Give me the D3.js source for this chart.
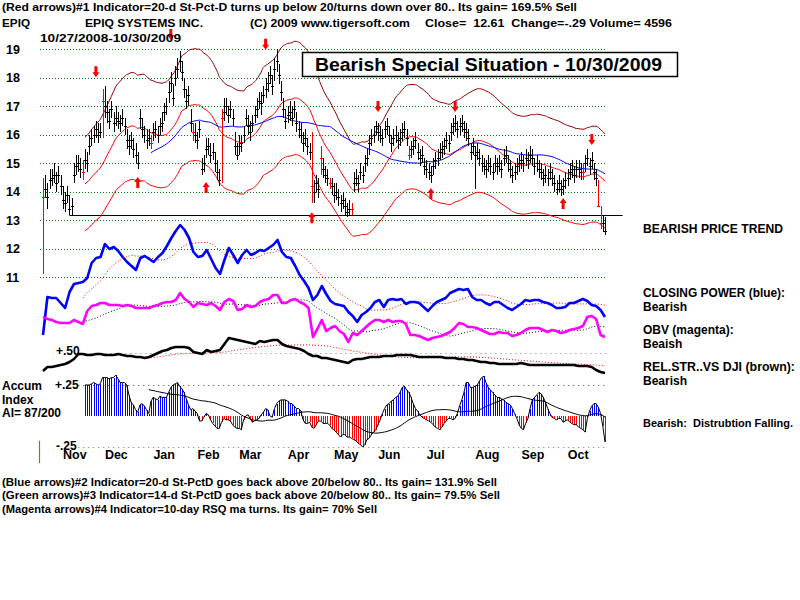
<!DOCTYPE html>
<html><head><meta charset="utf-8">
<script src="https://cdn.jsdelivr.net/npm/d3@7"></script>
<style>
body{margin:0;background:#fff;}
svg{display:block;}
text{font-family:"Liberation Sans",Arial,sans-serif;font-weight:bold;fill:#000;}
</style></head><body>
<svg id="c" width="800" height="600"></svg>
<script>
// ---------- DATA ----------
const closes = [
13.8,14.1,13.8,14.4,14.5,14.6,14.3,14.6,14.2,13.7,
13.6,13.9,13.4,13.5,14.6,14.9,15.0,14.8,14.7,15.1,
15.0,15.6,15.9,16.0,16.2,16.0,16.1,17.2,17.0,16.8,
16.5,16.9,16.4,16.6,16.5,16.4,16.6,16.3,15.8,15.6,
15.8,15.5,15.3,15.0,16.6,16.2,16.0,15.8,15.9,15.7,
16.1,16.2,16.0,16.3,16.4,16.8,17.0,17.5,17.8,17.3,
18.0,18.3,18.6,18.2,17.6,17.2,17.4,16.4,16.1,16.0,
15.8,16.2,14.8,15.0,15.5,15.6,15.3,15.4,15.0,14.7,
14.4,16.6,16.8,17.0,16.7,16.9,16.6,15.6,15.3,15.6,
15.7,16.0,16.6,16.3,16.1,16.4,16.7,16.9,17.2,17.1,
17.4,17.6,17.8,18.1,17.7,18.3,18.6,18.1,17.5,16.9,
16.5,16.7,16.8,16.6,16.9,16.4,16.2,16.0,15.7,15.9,
15.6,15.4,14.2,14.0,14.3,14.1,15.2,14.8,14.6,14.5,
14.3,14.2,13.9,14.0,13.8,13.6,13.7,13.5,13.3,13.4,
13.4,14.3,14.5,14.3,14.7,14.6,15.0,15.2,15.7,15.9,
16.0,16.3,16.1,16.0,15.9,16.2,16.3,16.0,15.7,15.9,
16.0,15.8,15.9,16.1,16.2,15.9,15.3,15.5,15.6,15.8,
15.4,15.2,15.3,14.9,14.8,14.7,14.6,14.9,15.1,15.2,
15.4,15.5,15.6,15.8,15.7,16.1,16.3,16.4,16.2,16.3,
16.4,16.2,16.1,15.9,15.4,15.6,15.3,15.4,15.2,15.0,
14.9,14.8,15.0,14.9,14.7,15.0,14.9,15.0,14.8,15.2,
15.3,15.0,14.8,14.6,14.7,14.9,15.0,15.1,15.0,15.2,
15.1,15.3,15.2,14.9,15.0,14.8,14.7,14.5,14.6,14.5,
14.7,14.5,14.3,14.1,14.3,14.1,14.2,14.4,14.5,14.7,
14.8,14.6,14.8,14.8,14.7,14.7,15.0,15.2,14.9,15.1,
14.7,14.5,13.5,12.9,12.9,12.61];
const highs = [
14.5,14.6,14.3,14.8,14.8,15.0,14.7,14.9,14.6,14.2,
14.0,14.2,13.9,13.8,15.0,15.3,15.3,15.2,15.1,15.5,
15.4,16.0,16.2,16.3,16.5,16.4,16.4,17.6,17.7,17.2,
16.9,17.2,16.8,17.0,16.8,16.7,16.9,16.6,16.2,16.0,
16.1,15.9,15.7,15.4,16.9,16.6,16.3,16.2,16.2,16.0,
16.4,16.5,16.3,16.6,16.8,17.1,17.3,17.9,18.2,17.8,
18.4,18.7,18.95,18.6,18.0,17.6,17.7,16.9,16.4,16.4,
16.1,16.5,15.2,15.3,15.9,15.9,15.7,15.7,15.4,15.1,
14.8,16.9,17.3,17.3,17.0,17.2,16.9,16.1,15.7,16.0,
16.0,16.3,16.9,16.7,16.5,16.7,17.0,17.3,17.5,17.5,
17.7,18.0,18.2,18.4,18.1,18.7,19.0,18.5,17.9,17.3,
16.9,17.0,17.2,17.0,17.2,16.8,16.5,16.4,16.1,16.2,
15.9,15.7,16.1,14.4,14.6,14.5,15.6,15.2,14.9,14.8,
14.5,14.5,14.3,14.3,14.1,13.9,14.0,13.8,13.6,13.7,
13.6,14.7,14.8,14.6,15.0,14.9,15.3,15.5,16.0,16.2,
16.3,16.5,16.4,16.3,16.2,16.5,16.6,16.3,16.0,16.2,
16.3,16.1,16.2,16.4,16.5,16.2,15.6,15.8,15.9,16.1,
15.7,15.5,15.6,15.2,15.1,15.0,14.9,15.2,15.4,15.5,
15.7,15.8,15.9,16.1,16.0,16.4,16.6,16.7,16.5,16.6,
16.7,16.5,16.4,16.2,15.7,15.9,15.6,15.7,15.5,15.3,
15.2,15.1,15.3,15.2,15.0,15.3,15.2,15.3,15.1,15.5,
15.6,15.3,15.1,14.9,15.0,15.2,15.3,15.4,15.3,15.5,
15.4,15.6,15.5,15.2,15.3,15.1,15.0,14.8,14.9,14.8,
15.0,14.8,14.6,14.4,14.6,14.4,14.5,14.7,14.8,15.0,
15.1,14.9,15.1,15.1,15.0,15.0,15.3,15.5,15.2,15.4,
15.0,14.8,14.4,13.5,13.2,13.1];
const lows = [
11.1,13.8,13.4,14.1,14.2,14.3,14.0,14.3,13.9,13.4,
13.3,13.6,13.2,13.2,14.3,14.6,14.7,14.5,14.4,14.8,
14.7,15.3,15.6,15.7,15.9,15.7,15.9,15.9,16.6,16.4,
16.2,16.6,16.1,16.3,16.2,16.1,16.3,16.0,15.5,15.3,
15.5,15.2,15.0,14.8,16.2,15.9,15.7,15.5,15.6,15.5,
15.8,15.9,15.7,16.0,16.1,16.5,16.7,17.1,17.5,17.0,
17.7,18.0,18.2,17.9,17.3,16.9,17.0,16.1,15.8,15.7,
15.5,15.9,14.6,14.7,15.2,15.3,15.0,15.1,14.7,14.4,
14.2,14.3,16.5,16.7,16.4,16.6,16.3,15.3,15.1,15.3,
15.4,15.7,16.3,16.0,15.8,16.1,16.4,16.6,16.9,16.7,
17.1,17.3,17.5,17.8,17.4,17.9,18.2,17.8,17.2,16.6,
16.2,16.4,16.5,16.3,16.6,16.1,15.9,15.7,15.4,15.6,
15.3,15.1,13.6,13.6,14.0,13.8,14.6,14.5,14.3,14.2,
14.1,13.9,13.6,13.7,13.5,13.3,13.4,13.2,13.1,13.15,
13.2,14.0,14.2,14.0,14.4,14.3,14.7,14.9,15.3,15.6,
15.7,16.0,15.8,15.7,15.6,15.9,16.0,15.7,15.4,15.6,
15.7,15.5,15.6,15.8,15.9,15.6,15.1,15.2,15.3,15.5,
15.1,14.9,15.0,14.6,14.5,14.4,14.3,14.6,14.8,14.9,
15.1,15.2,15.3,15.5,15.4,15.8,16.0,16.1,15.9,16.0,
16.1,15.9,15.8,15.6,15.1,15.3,14.1,15.1,14.9,14.7,
14.6,14.5,14.7,14.6,14.4,14.7,14.6,14.7,14.5,14.9,
15.0,14.7,14.5,14.3,14.4,14.6,14.7,14.8,14.7,14.9,
14.8,15.0,14.9,14.6,14.7,14.5,14.4,14.2,14.3,14.2,
14.4,14.2,14.0,13.9,14.0,13.85,13.9,14.1,14.2,14.4,
14.5,14.3,14.5,14.5,14.4,14.4,14.7,14.9,14.6,14.8,
14.4,14.2,13.45,12.7,12.6,12.5];
const redBarDays = [0,18,27,49,68,81,122,126,130,140,166,245,252,253];
const priceTicks = [19,18,17,16,15,14,13,12,11];
const monthLabels = ["Nov","Dec","Jan","Feb","Mar","Apr","May","Jun","Jul","Aug","Sep","Oct"];
const monthStartDays = [5,24,46,66,85,107,128,148,170,192,213,234];
const downArrowDays = [24,58,101,152,187,249];
const downArrowPrices = [18.02,19.33,18.98,16.8,16.8,15.64];
const upArrowDays = [43,74,122,176,236];
const upArrowPrices = [14.52,14.34,13.28,14.13,13.78];
const trendDays = [12,263];
const trendPrices = [13.17,13.17];
// indicator lines (one point per two trading days)
const closingPower = [40,78,77,77,72,67,83,91,92,93,97,112,117,118,131,126,128,124,118,113,
109,105,117,119,116,113,118,122,129,137,144,150,145,137,123,118,119,125,116,107,
101,115,127,120,112,120,125,120,122,125,124,127,130,135,123,118,117,109,100,94,
87,75,80,89,81,74,71,70,69,63,59,53,60,63,67,73,75,68,75,76,
75,76,71,73,73,72,68,64,69,73,75,77,82,84,86,85,86,78,75,75,
72,70,73,73,70,67,65,68,71,75,74,75,75,73,72,70,67,67,68,72,
72,74,76,74,70,69,65,58];
const obv = [58,56,55,53,52,52,52,55,53,51,64,69,70,72,72,70,70,70,69,70,
69,67,67,67,67,69,70,72,73,73,75,82,76,73,68,72,71,70,72,69,
65,73,76,74,65,66,70,68,69,73,75,76,80,80,72,72,75,76,73,71,
67,38,46,55,44,47,49,44,41,33,42,40,44,48,52,55,55,53,55,53,
54,54,51,40,40,39,37,35,37,38,39,41,43,47,52,51,48,48,47,45,
43,41,41,43,42,42,39,40,42,45,47,47,47,45,43,45,44,42,43,45,
46,47,49,58,59,56,40,38];
const relStr = [4,8,8,9,10,11,13,16,21,21,20,20,21,21,20,20,20,21,20,19,
19,18,18,17,18,20,22,24,25,27,28,28,28,27,23,22,21,25,23,24,
25,31,37,36,35,34,33,32,31,34,33,34,35,35,31,29,28,27,26,24,
21,19,19,17,17,16,15,14,13,12,15,16,16,17,18,18,18,19,19,19,
20,20,20,20,19,18,18,18,18,18,18,17,17,17,16,16,15,15,14,13,
13,12,12,11,11,11,11,11,12,11,10,10,10,10,10,10,10,10,10,10,
10,9,9,9,8,5,3,2];
const relStrRef = 22; // the "+.50" level
const aiStartDay = 19;
const accumIndex = [
.25,.25,.25,.26,.27,.26,.25,.26,.31,.31,
.31,.30,.31,.31,.33,.30,.27,.27,.27,.25,
.17,.11,.09,.05,.03,.09,.10,.08,.05,.02,
.12,.15,.14,.13,.16,.15,.15,.15,.19,.23,
.25,.26,.27,.24,.22,.19,.14,.09,.05,.06,
.04,.02,-.04,-.04,-.01,.02,.01,-.03,-.06,-.08,
-.10,-.10,-.05,-.02,-.03,-.03,-.04,-.07,-.09,-.10,
-.10,-.11,-.03,.00,.01,-.02,-.05,-.04,-.03,-.02,
.01,.03,.06,.05,.00,-.01,.06,.10,.12,.13,
.13,.13,.12,.10,.10,.08,.06,.06,.04,-.03,
-.06,-.06,-.05,-.09,-.10,-.07,-.04,-.04,-.06,-.06,
-.06,-.07,-.10,-.11,-.13,-.15,-.17,-.15,-.15,-.17,
-.17,-.18,-.19,-.20,-.22,-.23,-.25,-.23,-.19,-.18,
-.15,-.13,-.11,-.07,-.03,.02,.06,.09,.10,.12,
.13,.15,.16,.19,.23,.24,.21,.19,.15,.10,
.06,.04,.01,-.01,-.02,-.03,-.04,-.05,-.07,-.09,
-.10,-.11,-.09,-.06,-.04,-.02,-.02,-.03,-.02,.02,
.08,.13,.19,.27,.27,.23,.23,.24,.25,.28,
.31,.32,.27,.23,.21,.19,.17,.15,.15,.14,
.13,.11,.10,.09,.06,.02,-.02,-.07,-.10,-.11,
-.06,-.02,.06,.13,.15,.17,.19,.18,.15,.11,
.06,.02,-.01,-.02,-.03,-.02,-.02,-.05,-.04,-.03,
-.05,-.06,-.07,-.07,-.09,-.10,-.11,-.13,-.02,.04,
.08,.10,.10,.07,.02,-.08,-.21];
const aiTicks = [0.25,-0.25];
const aiTickColors = ["#444","#c05080"];

// ---------- SCALES ----------
const svg = d3.select("#c");
const plotLeft = 40, plotRight = 607;
const x = d3.scaleLinear().domain([0,255]).range([43,605]);
const xk = d3.scaleLinear().domain([0,closingPower.length-1]).range([43,605]);
const yP = d3.scaleLinear().domain([11,19]).range([277.3,49.3]);
const yI = d3.scaleLinear().domain([0,150]).range([375,225]);
const yA = d3.scaleLinear().domain([-0.25,0.25]).range([447,385]);

function sma(a,n){return a.map((v,i)=>{if(i<n-1)return null;let s=0;for(let j=i-n+1;j<=i;j++){if(a[j]==null)return null;s+=a[j];}return s/n;});}
const px = v=>Math.round(v)+0.5;

// ---------- PRICE PANEL ----------
const grid = svg.append("g");
grid.selectAll("line").data(priceTicks).join("line")
  .attr("x1",plotLeft).attr("x2",plotRight)
  .attr("y1",d=>px(yP(d))).attr("y2",d=>px(yP(d)))
  .attr("stroke","#008000").attr("stroke-dasharray","1,2");
svg.append("g").selectAll("text").data(priceTicks).join("text")
  .attr("x",6).attr("y",d=>yP(d)+4.5).attr("font-size",12.5).text(d=>d);

// trend line
svg.append("line").attr("x1",x(trendDays[0])).attr("x2",x(trendDays[1]))
  .attr("y1",px(yP(trendPrices[0]))).attr("y2",px(yP(trendPrices[1])))
  .attr("stroke","#000").attr("stroke-width",1);

// bands
const mid = sma(closes,20);
const upper = mid.map(v=>v==null?null:v*1.115);
const lower = mid.map(v=>v==null?null:v*0.885);
const ma50 = sma(closes,50);
const lineP = d3.line().defined(d=>d!=null).x((d,i)=>x(i)).y(d=>yP(d)).curve(d3.curveMonotoneX);
svg.append("path").attr("d",lineP(upper)).attr("fill","none").attr("stroke","#900000").attr("stroke-width",1);
svg.append("path").attr("d",lineP(mid)).attr("fill","none").attr("stroke","#ff0000").attr("stroke-width",1);
svg.append("path").attr("d",lineP(lower)).attr("fill","none").attr("stroke","#ff0000").attr("stroke-width",1);
svg.append("path").attr("d",lineP(ma50)).attr("fill","none").attr("stroke","#0000ff").attr("stroke-width",1);

// bars
const redSet = new Set(redBarDays);
const days = d3.range(closes.length);
const bars = svg.append("g").attr("shape-rendering","crispEdges");
bars.selectAll("line.hl").data(days).join("line").attr("class","hl")
  .attr("x1",i=>px(x(i))).attr("x2",i=>px(x(i)))
  .attr("y1",i=>yP(highs[i])).attr("y2",i=>yP(lows[i]))
  .attr("stroke",i=>redSet.has(i)?"#ff0000":"#000");
bars.selectAll("line.cl").data(days).join("line").attr("class","cl")
  .attr("x1",i=>px(x(i))-1.5).attr("x2",i=>px(x(i))+1.5)
  .attr("y1",i=>px(yP(closes[i]))).attr("y2",i=>px(yP(closes[i])))
  .attr("stroke",i=>redSet.has(i)?"#ff0000":"#000");

// arrows
function downArrow(cx,ty){return `M${cx-1.5},${ty-11}L${cx+1.5},${ty-11}L${cx+1.5},${ty-5}L${cx+3.5},${ty-5}L${cx},${ty}L${cx-3.5},${ty-5}L${cx-1.5},${ty-5}Z`;}
function upArrow(cx,ty){return `M${cx-1.5},${ty+11}L${cx+1.5},${ty+11}L${cx+1.5},${ty+5}L${cx+3.5},${ty+5}L${cx},${ty}L${cx-3.5},${ty+5}L${cx-1.5},${ty+5}Z`;}
svg.append("g").selectAll("path").data(downArrowDays).join("path")
  .attr("d",(d,i)=>downArrow(x(d),yP(downArrowPrices[i]))).attr("fill","#ff0000");
svg.append("g").selectAll("path").data(upArrowDays).join("path")
  .attr("d",(d,i)=>upArrow(x(d),yP(upArrowPrices[i]))).attr("fill","#ff0000");

// ---------- INDICATOR PANEL ----------
const lineI = d3.line().defined(d=>d!=null).x((d,i)=>xk(i)).y(d=>yI(d));
svg.append("line").attr("x1",x(17)).attr("x2",plotRight).attr("y1",px(yI(relStrRef))).attr("y2",px(yI(relStrRef)))
  .attr("stroke","#808080").attr("stroke-dasharray","1,4");
svg.append("path").attr("d",lineI(sma(closingPower,10))).attr("fill","none").attr("stroke","#ff0000").attr("stroke-dasharray","1,2");
svg.append("path").attr("d",lineI(sma(obv,10))).attr("fill","none").attr("stroke","#000").attr("stroke-dasharray","1,2");
svg.append("path").attr("d",lineI(sma(relStr,24))).attr("fill","none").attr("stroke","#ff0000").attr("stroke-dasharray","1,2");
svg.append("path").attr("d",lineI(closingPower)).attr("fill","none").attr("stroke","#0000ff").attr("stroke-width",2.6).attr("stroke-linejoin","round");
svg.append("path").attr("d",lineI(obv)).attr("fill","none").attr("stroke","#ff00ff").attr("stroke-width",2.6).attr("stroke-linejoin","round");
svg.append("path").attr("d",lineI(relStr)).attr("fill","none").attr("stroke","#000").attr("stroke-width",2.6).attr("stroke-linejoin","round");

// ---------- ACCUMULATION INDEX ----------
svg.append("g").selectAll("line").data(aiTicks).join("line")
  .attr("x1",x(16)).attr("x2",plotRight).attr("y1",d=>px(yA(d))).attr("y2",d=>px(yA(d)))
  .attr("stroke",(d,i)=>aiTickColors[i]).attr("stroke-dasharray","1,4");
svg.append("line").attr("x1",plotLeft-0.5).attr("x2",plotLeft-0.5).attr("y1",yA(-0.2)).attr("y2",yA(-0.38))
  .attr("stroke","#808000").attr("stroke-width",1.2);
const aiDays = accumIndex.map((v,j)=>j+aiStartDay);
svg.append("g").attr("shape-rendering","crispEdges").selectAll("line").data(aiDays).join("line")
  .attr("x1",d=>px(x(d))).attr("x2",d=>px(x(d)))
  .attr("y1",yA(0)).attr("y2",(d,j)=>yA(accumIndex[j]))
  .attr("stroke",(d,j)=>accumIndex[j]>=0?"#0000ff":"#ff0000");
const lineA = d3.line().defined(d=>d!=null).x((d,j)=>x(j+aiStartDay)).y(d=>yA(d));
svg.append("path").attr("d",lineA(accumIndex)).attr("fill","none").attr("stroke","#000").attr("stroke-width",1);
svg.append("path").attr("d",lineA(sma(accumIndex,30))).attr("fill","none").attr("stroke","#000").attr("stroke-width",1);

// month labels
svg.append("g").selectAll("text").data(monthStartDays).join("text")
  .attr("x",d=>x(d)+9).attr("y",459).attr("font-size",12.5).text((d,i)=>monthLabels[i]);

// ---------- TEXT ----------
function t(str,xx,yy,size,len,fill){const e=svg.append("text").attr("x",xx).attr("y",yy).attr("font-size",size).text(str);if(len)e.attr("textLength",len).attr("lengthAdjust","spacingAndGlyphs");if(fill)e.style("fill",fill);return e;}
t("(Red arrows)#1 Indicator=20-d St-Pct-D turns up below 20/turns down over 80.. Its gain= 169.5% Sell",2,10.5,11,575);
t("EPIQ",2,26.5,11.5,28);
t("EPIQ SYSTEMS INC.",85,26.5,11.5,118);
t("(C) 2009 www.tigersoft.com",250,26.5,11.5,160);
t("Close=  12.61  Change=-.29 Volume= 4596",425,26.5,11.5,247).style("white-space","pre");
t("10/27/2008-10/30/2009",40,41.7,11.5,141);

// title box
svg.append("rect").attr("x",302.5).attr("y",52.5).attr("width",375).attr("height",24).attr("fill","#fff").attr("stroke","#000").attr("stroke-width",1.5);
t("Bearish Special Situation - 10/30/2009",315,70.5,18,347);

t("+.50",56,355,12);
t("+.25",55,388.5,12);
t("-.25",56,450,12);
t("Accum",2,390,12);
t("Index",2,403.5,12);
t("AI= 87/200",2,417,12);

t("BEARISH PRICE TREND",643,233,12,140);
t("CLOSING POWER (blue):",643,297,12,142);
t("Bearish",643,311,12);
t("OBV (magenta):",643,334,12);
t("Beaish",643,348,12);
t("REL.STR..VS DJI (brown):",643,371,12,152);
t("Bearish",643,385,12);
t("Bearish:  Distrubtion Falling.",643,427,11.5,150).style("white-space","pre");

t("(Blue arrows)#2 Indicator=20-d St-PctD goes back above 20/below 80.. Its gain= 131.9% Sell",2,486,11,495);
t("(Green arrows)#3 Indicator=14-d St-PctD goes back above 20/below 80.. Its gain= 79.5% Sell",2,499,11,498);
t("(Magenta arrows)#4 Indicator=10-day RSQ ma turns. Its gain= 70% Sell",2,513,11,375);
</script>
</body></html>
